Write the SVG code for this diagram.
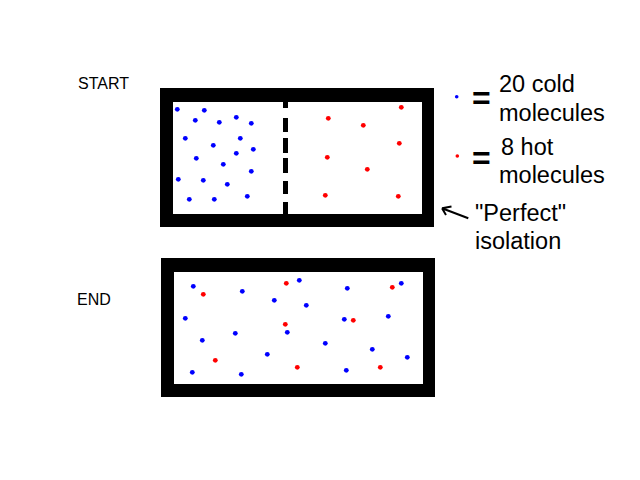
<svg xmlns="http://www.w3.org/2000/svg" width="640" height="480" viewBox="0 0 640 480">
<style>
.t{font-family:"Liberation Sans",Arial,sans-serif;fill:#000}
.l{font-size:23.5px}
.c{fill:#0000ff}
.h{fill:#ff0000}
.eq{font-family:"Liberation Sans",Arial,sans-serif;font-weight:bold;font-size:32px}
</style>
<rect width="640" height="480" fill="#fff"/>
<g id="start-label"><text class="t" x="78" y="89" font-size="16">START</text></g>
<g id="end-label"><text class="t" x="77" y="305" font-size="16">END</text></g>
<g id="start-box">
<rect x="160" y="88" width="274" height="139" fill="#000"/>
<rect x="173" y="102" width="249" height="112" fill="#fff"/>
<g fill="#000">
<rect x="283" y="101" width="5" height="7"/>
<rect x="283" y="118" width="5" height="14"/>
<rect x="283" y="138" width="5" height="15"/>
<rect x="283" y="158" width="5" height="15"/>
<rect x="283" y="181" width="5" height="13"/>
<rect x="283" y="202" width="5" height="12"/>
</g>
<g class="c">
<circle cx="177.3" cy="109.3" r="2.4"/><circle cx="204.3" cy="110.3" r="2.4"/>
<circle cx="195.3" cy="120.3" r="2.4"/><circle cx="219.3" cy="122.3" r="2.4"/>
<circle cx="236.3" cy="117.3" r="2.4"/><circle cx="251.3" cy="123.3" r="2.4"/>
<circle cx="185.3" cy="138.3" r="2.4"/><circle cx="240.3" cy="138.3" r="2.4"/>
<circle cx="213.3" cy="145.3" r="2.4"/><circle cx="253.3" cy="149.3" r="2.4"/>
<circle cx="236.3" cy="153.3" r="2.4"/><circle cx="196.3" cy="158.3" r="2.4"/>
<circle cx="223.3" cy="164.3" r="2.4"/><circle cx="251.3" cy="171.3" r="2.4"/>
<circle cx="178.3" cy="179.3" r="2.4"/><circle cx="203.3" cy="180.3" r="2.4"/>
<circle cx="227.3" cy="184.3" r="2.4"/><circle cx="247.3" cy="196.3" r="2.4"/>
<circle cx="189.3" cy="199.3" r="2.4"/><circle cx="214.3" cy="199.3" r="2.4"/>
</g>
<g class="h">
<circle cx="401.3" cy="107.3" r="2.4"/><circle cx="328.3" cy="118.3" r="2.4"/>
<circle cx="363.3" cy="125.3" r="2.4"/><circle cx="399.3" cy="143.3" r="2.4"/>
<circle cx="327.3" cy="157.3" r="2.4"/><circle cx="367.3" cy="169.3" r="2.4"/>
<circle cx="325.3" cy="195.3" r="2.4"/><circle cx="398.3" cy="196.3" r="2.4"/>
</g>
</g>
<g id="end-box">
<rect x="161" y="258" width="274" height="139" fill="#000"/>
<rect x="174" y="272" width="249" height="112" fill="#fff"/>
<g class="c">
<circle cx="193.3" cy="286.3" r="2.4"/><circle cx="242.3" cy="291.3" r="2.4"/>
<circle cx="274.3" cy="300.3" r="2.4"/><circle cx="299.3" cy="280.3" r="2.4"/>
<circle cx="185.3" cy="318.3" r="2.4"/><circle cx="287.3" cy="332.3" r="2.4"/>
<circle cx="235.3" cy="333.3" r="2.4"/><circle cx="202.3" cy="340.3" r="2.4"/>
<circle cx="267.3" cy="354.3" r="2.4"/><circle cx="192.3" cy="372.3" r="2.4"/>
<circle cx="241.3" cy="374.3" r="2.4"/><circle cx="347.3" cy="288.3" r="2.4"/>
<circle cx="401.3" cy="283.3" r="2.4"/><circle cx="306.3" cy="305.3" r="2.4"/>
<circle cx="344.3" cy="319.3" r="2.4"/><circle cx="388.3" cy="316.3" r="2.4"/>
<circle cx="325.3" cy="343.3" r="2.4"/><circle cx="372.3" cy="349.3" r="2.4"/>
<circle cx="407.3" cy="357.3" r="2.4"/><circle cx="346.3" cy="370.3" r="2.4"/>
</g>
<g class="h">
<circle cx="203.3" cy="294.3" r="2.4"/><circle cx="286.3" cy="283.3" r="2.4"/>
<circle cx="285.3" cy="324.3" r="2.4"/><circle cx="215.3" cy="360.3" r="2.4"/>
<circle cx="297.3" cy="367.3" r="2.4"/><circle cx="392.3" cy="287.3" r="2.4"/>
<circle cx="353.3" cy="320.3" r="2.4"/><circle cx="380.3" cy="367.3" r="2.4"/>
</g>
</g>
<g id="legend-cold">
<circle class="c" cx="456.7" cy="96.7" r="1.8"/>
<text class="eq" x="472" y="109">=</text>
<text class="t l" x="499" y="92">20 cold</text>
<text class="t l" x="499" y="121">molecules</text>
</g>
<g id="legend-hot">
<circle class="h" cx="457.3" cy="156" r="1.8"/>
<text class="eq" x="472" y="169">=</text>
<text class="t l" x="501" y="155">8 hot</text>
<text class="t l" x="499" y="183">molecules</text>
</g>
<g id="isolation-label">
<text class="t l" x="475" y="221">"Perfect"</text>
<text class="t l" x="475" y="249">isolation</text>
</g>
<g id="connectors" fill="none" stroke="#000" stroke-width="2">
<path d="M468.3,218.3 L442,208.3 M442,208.3 L451.5,206.5 M442,208.3 L446,215"/>
</g>
</svg>
